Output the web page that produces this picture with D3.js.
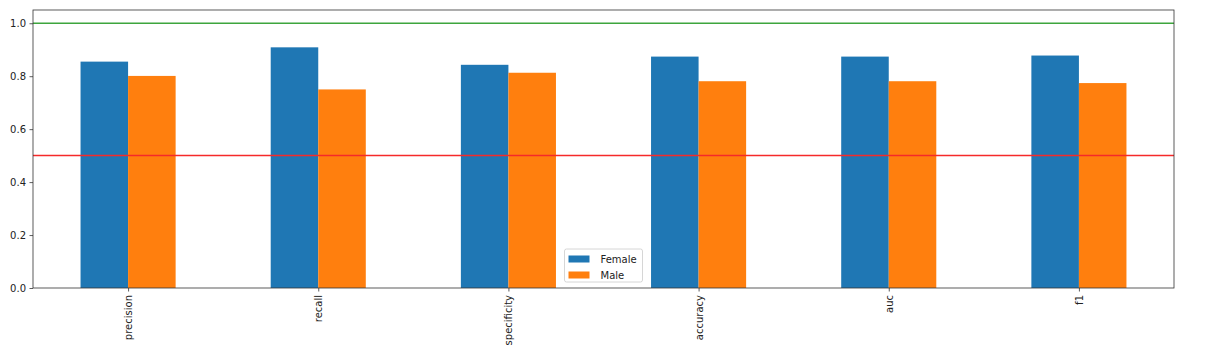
<!DOCTYPE html>
<html>
<head>
<meta charset="utf-8">
<script src="https://cdn.jsdelivr.net/npm/d3@7"></script>
<style>
  body { margin: 0; background: #fff; }
  text { font-family: "DejaVu Sans", sans-serif; }
</style>
</head>
<body>
<div id="chart"></div>
<script>
"use strict";

const metrics = ["precision", "recall", "specificity", "accuracy", "auc", "f1"];
const seriesNames = ["Female", "Male"];
const femaleValues = [0.855, 0.909, 0.843, 0.874, 0.874, 0.878];
const maleValues = [0.801, 0.750, 0.813, 0.781, 0.781, 0.774];
const yTicks = [0.0, 0.2, 0.4, 0.6, 0.8, 1.0];
const refLines = [{ value: 1.0, color: "#3da53d" }, { value: 0.5, color: "#f52a2a" }];
const colors = ["#1f77b4", "#ff7f0e"];

// set the dimensions and margins of the graph
const margin = { top: 10, right: 32, bottom: 74, left: 33 },
    width = 1206 - margin.left - margin.right,
    height = 362 - margin.top - margin.bottom;

const svg = d3.select("#chart")
    .append("svg")
    .attr("width", 1206)
    .attr("height", 362)
    .append("g")
    .attr("transform", `translate(${margin.left},${margin.top})`);

const values = [femaleValues, maleValues];

// category centers at 0..5, xlim -0.5..5.5 like pandas
const x = d3.scaleLinear().domain([-0.5, metrics.length - 0.5]).range([0, width]);
const y = d3.scaleLinear().domain([0, 1.05]).range([height, 0]);
const barW = 0.25;

seriesNames.forEach((name, s) => {
    svg.append("g")
        .selectAll("rect")
        .data(values[s])
        .join("rect")
        .attr("x", (d, i) => x(i - barW + s * barW))
        .attr("y", d => y(d))
        .attr("width", x(barW) - x(0))
        .attr("height", d => y(0) - y(d))
        .attr("fill", colors[s]);
});

refLines.forEach(l => {
    svg.append("line")
        .attr("x1", 0).attr("x2", width)
        .attr("y1", y(l.value)).attr("y2", y(l.value))
        .attr("stroke", l.color)
        .attr("stroke-width", 1.5);
});

// axes
const yAxis = svg.append("g")
    .call(d3.axisLeft(y).tickValues(yTicks).tickFormat(d3.format(".1f")).tickSize(3.5).tickPadding(3.5));
const xAxis = svg.append("g")
    .attr("transform", `translate(0,${height})`)
    .call(d3.axisBottom(x).tickValues(d3.range(metrics.length)).tickFormat(i => metrics[i]).tickSize(3.5).tickPadding(3.5));

[xAxis, yAxis].forEach(a => {
    a.select(".domain").remove();
    a.selectAll("line").attr("stroke", "#333").attr("stroke-width", 0.8);
    a.selectAll("text").attr("fill", "#222").style("font-size", "10px");
});

xAxis.selectAll("text")
    .attr("transform", "rotate(-90)")
    .attr("text-anchor", "end")
    .attr("x", -7)
    .attr("y", 0)
    .attr("dy", "0.35em");

// frame
svg.append("rect")
    .attr("width", width)
    .attr("height", height)
    .attr("fill", "none")
    .attr("stroke", "#333")
    .attr("stroke-width", 0.8);

// legend
const legend = svg.append("g")
    .attr("transform", `translate(${x(2.5) - 39},${height - 39})`);
legend.append("rect")
    .attr("width", 78).attr("height", 33)
    .attr("rx", 2)
    .attr("fill", "#fff").attr("fill-opacity", 0.8)
    .attr("stroke", "#ccc").attr("stroke-width", 0.8);
seriesNames.forEach((name, s) => {
    const g = legend.append("g").attr("transform", `translate(4,${6.5 + s * 16})`);
    g.append("rect").attr("width", 21).attr("height", 7).attr("fill", colors[s]);
    g.append("text").attr("x", 32).attr("y", 3.5).attr("dy", "0.35em")
        .style("font-size", "10px").attr("fill", "#222").text(name);
});
</script>
</body>
</html>
